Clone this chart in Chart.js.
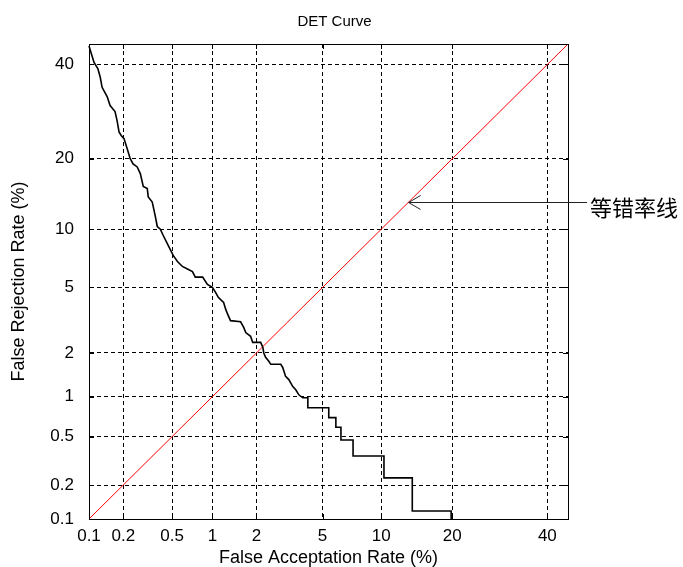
<!DOCTYPE html>
<html>
<head>
<meta charset="utf-8">
<script src="https://cdn.jsdelivr.net/npm/chart.js@4"></script>
<style>
  body { margin: 0; background: #fff; }
</style>
</head>
<body>
<canvas id="det" width="683" height="567"></canvas>
<script>
// rates in percent
const tickValues = [0.1, 0.2, 0.5, 1, 2, 5, 10, 20, 40];
const tickLabels = ['0.1', '0.2', '0.5', '1', '2', '5', '10', '20', '40'];
const axisMin = 0.1;
const axisMax = 45;

const farValues = [0.1, 0.111, 0.12, 0.126, 0.131, 0.145, 0.154, 0.17, 0.177, 0.184, 0.192, 0.203, 0.216, 0.229, 0.242, 0.262, 0.278, 0.294, 0.317, 0.323, 0.348, 0.368, 0.382, 0.404, 0.427, 0.468, 0.511, 0.55, 0.60, 0.655, 0.714, 0.75, 0.85, 0.92, 1.0, 1.05, 1.10, 1.20, 1.24, 1.28, 1.34, 1.57, 1.65, 1.70, 1.83, 1.89, 2.13, 2.2, 2.23, 2.29, 2.40, 2.47, 2.85, 2.93, 3.05, 3.19, 3.37, 3.51, 3.66, 3.86, 4.13, 4.13, 5.41, 5.41, 5.91, 5.91, 6.29, 6.29, 7.27, 7.27, 10.3, 10.3, 13.8, 13.8, 19.8, 19.8];
const frrValues = [44.5, 40.5, 39, 37, 34.6, 32.5, 30.5, 29.2, 27.3, 25, 24.3, 23.7, 21.8, 20, 19.1, 18.6, 17.5, 15.5, 15.2, 14.0, 13.3, 11.5, 10.3, 10.0, 9.3, 8.3, 7.4, 6.9, 6.5, 6.3, 6.1, 5.7, 5.7, 5.2, 5.0, 4.7, 4.4, 4.1, 3.75, 3.5, 3.2, 3.15, 2.9, 2.7, 2.56, 2.34, 2.34, 2.17, 2.0, 1.87, 1.76, 1.68, 1.68, 1.60, 1.39, 1.32, 1.18, 1.12, 1.03, 0.98, 0.98, 0.83, 0.83, 0.70, 0.70, 0.59, 0.59, 0.47, 0.47, 0.35, 0.35, 0.23, 0.23, 0.118, 0.118, 0.1];

// equal error rate line (y = x)
const eerLine = [0.1, 45];
const eerLabel = '等错率线';
const eerArrowAt = 13.3;
const chartTitle = 'DET Curve';

const fontFamily = '"Liberation Sans", Arial, Helvetica, sans-serif';

// inverse normal cdf (Acklam) -> DET axes are normal deviate scaled
function probit(p) {
  const a = [-3.969683028665376e+01, 2.209460984245205e+02, -2.759285104469687e+02, 1.383577518672690e+02, -3.066479806614716e+01, 2.506628277459239e+00];
  const b = [-5.447609879822406e+01, 1.615858368580409e+02, -1.556989798598866e+02, 6.680131188771972e+01, -1.328068155288572e+01];
  const c = [-7.784894002430293e-03, -3.223964580411365e-01, -2.400758277161838e+00, -2.549671348770348e+00, 4.374664141464968e+00, 2.938163982698783e+00];
  const d = [7.784695709041462e-03, 3.224671290700398e-01, 2.445134137142996e+00, 3.754408661907416e+00];
  const plow = 0.02425;
  let q, r;
  if (p < plow) {
    q = Math.sqrt(-2 * Math.log(p));
    return (((((c[0]*q+c[1])*q+c[2])*q+c[3])*q+c[4])*q+c[5]) / ((((d[0]*q+d[1])*q+d[2])*q+d[3])*q+1);
  }
  if (p <= 1 - plow) {
    q = p - 0.5; r = q * q;
    return (((((a[0]*r+a[1])*r+a[2])*r+a[3])*r+a[4])*r+a[5])*q / (((((b[0]*r+b[1])*r+b[2])*r+b[3])*r+b[4])*r+1);
  }
  q = Math.sqrt(-2 * Math.log(1 - p));
  return -(((((c[0]*q+c[1])*q+c[2])*q+c[3])*q+c[4])*q+c[5]) / ((((d[0]*q+d[1])*q+d[2])*q+d[3])*q+1);
}
const toDev = v => probit(v / 100);

const detPoints = farValues.map((v, i) => ({ x: toDev(v), y: toDev(frrValues[i]) }));
const eerPoints = eerLine.map(v => ({ x: toDev(v), y: toDev(v) }));

// frame + inward tick marks like matlab axes
const framePlugin = {
  id: 'frame',
  afterDatasetsDraw(chart) {
    const { ctx, chartArea: a, scales } = chart;
    ctx.save();
    ctx.strokeStyle = '#000';
    ctx.lineWidth = 1;
    ctx.setLineDash([]);
    ctx.beginPath();
    scales.x.ticks.forEach(t => {
      const px = Math.round(scales.x.getPixelForValue(t.value)) + 0.5;
      ctx.moveTo(px, a.bottom); ctx.lineTo(px, a.bottom - 5);
      ctx.moveTo(px, a.top); ctx.lineTo(px, a.top + 5);
    });
    scales.y.ticks.forEach(t => {
      const py = Math.round(scales.y.getPixelForValue(t.value)) + 0.5;
      ctx.moveTo(a.left, py); ctx.lineTo(a.left + 5, py);
      ctx.moveTo(a.right, py); ctx.lineTo(a.right - 5, py);
    });
    ctx.stroke();
    ctx.strokeRect(Math.round(a.left) + 0.5, Math.round(a.top) + 0.5, Math.round(a.right - a.left), Math.round(a.bottom - a.top));
    // title over the axes box
    ctx.fillStyle = '#000';
    ctx.font = '15px ' + fontFamily;
    ctx.textAlign = 'center';
    ctx.textBaseline = 'middle';
    ctx.fillText(chartTitle, (a.left + a.right) / 2 + 6, 22);
    ctx.restore();
  }
};

// arrow pointing at the eer line with its label
const arrowPlugin = {
  id: 'eerArrow',
  afterDraw(chart) {
    const { ctx, chartArea: a, scales } = chart;
    const tipX = scales.x.getPixelForValue(toDev(eerArrowAt));
    const tipY = Math.round(scales.y.getPixelForValue(toDev(eerArrowAt))) + 0.5;
    const tailX = a.right + 19;
    ctx.save();
    ctx.strokeStyle = '#222';
    ctx.lineWidth = 1;
    ctx.beginPath();
    ctx.moveTo(tailX, tipY); ctx.lineTo(tipX, tipY);
    ctx.moveTo(tipX + 12, tipY - 7); ctx.lineTo(tipX, tipY); ctx.lineTo(tipX + 12, tipY + 7);
    ctx.stroke();
    ctx.fillStyle = '#000';
    ctx.font = '22px "Noto Sans CJK SC", sans-serif';
    ctx.textBaseline = 'middle';
    ctx.fillText(eerLabel, tailX + 3, tipY + 5);
    ctx.restore();
  }
};

const axisCommon = {
  type: 'linear',
  min: toDev(axisMin),
  max: toDev(axisMax),
  afterBuildTicks: s => { s.ticks = tickValues.map(v => ({ value: toDev(v) })); },
  grid: { color: '#000', lineWidth: 1, drawTicks: false },
  border: { display: true, color: '#000', width: 1, dash: [4, 3] },
};

new Chart(document.getElementById('det'), {
  type: 'scatter',
  data: {
    datasets: [
      {
        label: 'DET',
        data: detPoints,
        showLine: true,
        borderColor: '#000',
        borderWidth: 1.6,
        pointRadius: 0,
        fill: false,
        clip: 2
      },
      {
        label: 'EER',
        data: eerPoints,
        showLine: true,
        borderColor: '#ff0000',
        borderWidth: 1,
        pointRadius: 0,
        fill: false
      }
    ]
  },
  options: {
    responsive: false,
    animation: false,
    devicePixelRatio: 1,
    layout: { padding: { left: 0, right: 115, top: 44, bottom: 0 } },
    plugins: {
      legend: { display: false },
      tooltip: { enabled: false },
      title: { display: false }
    },
    scales: {
      x: {
        ...axisCommon,
        position: 'bottom',
        afterFit: s => { s.height = 48; },
        ticks: {
          autoSkip: false, maxRotation: 0, color: '#000', padding: 7,
          font: { family: fontFamily, size: 17 },
          callback: (v, i) => tickLabels[i]
        },
        title: {
          display: true, text: 'False Acceptation Rate (%)', color: '#000',
          font: { family: fontFamily, size: 18, lineHeight: 1 }, padding: { top: 0, bottom: 0 }
        }
      },
      y: {
        ...axisCommon,
        position: 'left',
        afterFit: s => { s.width = 89; },
        ticks: {
          autoSkip: false, color: '#000', padding: 15,
          font: { family: fontFamily, size: 17 },
          callback: (v, i) => tickLabels[i]
        },
        title: {
          display: true, text: 'False Rejection Rate (%)', color: '#000',
          font: { family: fontFamily, size: 18 }, padding: { top: 8, bottom: 0 }
        }
      }
    }
  },
  plugins: [framePlugin, arrowPlugin]
});
</script>
</body>
</html>
